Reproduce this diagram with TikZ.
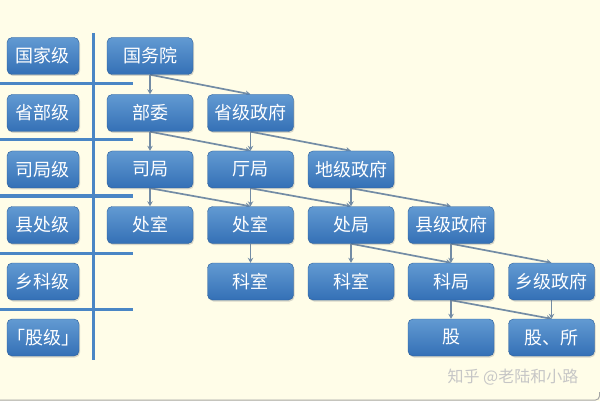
\documentclass[tikz,border=0pt]{standalone}
\usepackage{fontspec}
\newfontfamily\cjk{Noto Sans CJK SC}
\usetikzlibrary{shadows,backgrounds,arrows.meta}
\definecolor{bg}{RGB}{255,253,232}
\definecolor{boxtop}{RGB}{98,154,210}
\definecolor{boxbot}{RGB}{52,112,182}
\definecolor{rulec}{RGB}{74,134,197}
\definecolor{connc}{RGB}{115,140,165}
\tikzset{
  box/.style={rectangle, rounded corners=5pt, minimum width=86pt, minimum height=37pt,
    top color=boxtop, bottom color=boxbot, draw=boxbot!85!black, line width=0.4pt,
    text=white, font=\cjk\fontsize{18}{20}\selectfont, inner sep=0pt,
    drop shadow={shadow xshift=1pt, shadow yshift=-1.5pt, opacity=0.3}},
  lvl/.style={box, minimum width=72pt},
  conn/.style={draw=connc, line width=1.7pt, -{Stealth[length=5pt,width=5.5pt]}},
  rulel/.style={draw=rulec, line width=3pt},
  wmark/.style={text=gray!45, font=\cjk\fontsize{16}{18}\selectfont}
}
\begin{document}
\begin{tikzpicture}[x=1pt,y=-1pt]
\useasboundingbox (0,0) rectangle (600,401);
% level labels
\node[lvl] (L1) at (43,56) {国家级};
\node[lvl] (L2) at (43,113) {省部级};
\node[lvl] (L3) at (43,169.5) {司局级};
\node[lvl] (L4) at (43,225) {县处级};
\node[lvl] (L5) at (43,281.5) {乡科级};
\node[lvl] (L6) at (43,337.5) {「股级」};
% rules
\coordinate (vt) at (93,33);
\coordinate (vb) at (93,360);
\draw[rulel] (vt) -- (vb);
\foreach \y in {84,140,196,253,309} {
  \draw[rulel] (0,\y) -- (133,\y);
}
% main boxes
\node[box] (g) at (150,56) {国务院};
\node[box] (bw) at (150,113) {部委};
\node[box] (sz) at (250.5,113) {省级政府};
\node[box] (sj) at (150,169.5) {司局};
\node[box] (tj) at (250.5,169.5) {厅局};
\node[box] (dz) at (351,169.5) {地级政府};
\node[box] (cs1) at (150,225) {处室};
\node[box] (cs2) at (250.5,225) {处室};
\node[box] (cj) at (351,225) {处局};
\node[box] (xz) at (451,225) {县级政府};
\node[box] (ks1) at (250.5,281.5) {科室};
\node[box] (ks2) at (351,281.5) {科室};
\node[box] (kj) at (451,281.5) {科局};
\node[box] (xg) at (551.5,281.5) {乡级政府};
\node[box] (gu) at (451,337.5) {股};
\node[box] (gs) at (551.5,337.5) {股、所};
\node[wmark] (wm) at (513,377) {知乎 @老陆和小路};
\begin{pgfonlayer}{background}
\fill[bg] (0,0) rectangle (600,401);
\foreach \a/\b in {g/bw,bw/sj,sz/tj,sj/cs1,tj/cs2,dz/cj,cs2/ks1,cj/ks2,xz/kj,kj/gu,xg/gs,
  g/sz,bw/tj,sz/dz,sj/cs2,tj/cj,dz/xz,cj/kj,xz/xg,kj/gs} {
  \draw[conn] (\a.south) -- (\b.north);
}
\end{pgfonlayer}
\draw[gray!70, line width=1pt, rounded corners=4pt] (0,400) -- (599.5,400) -- (599.5,392);
\end{tikzpicture}
\end{document}
